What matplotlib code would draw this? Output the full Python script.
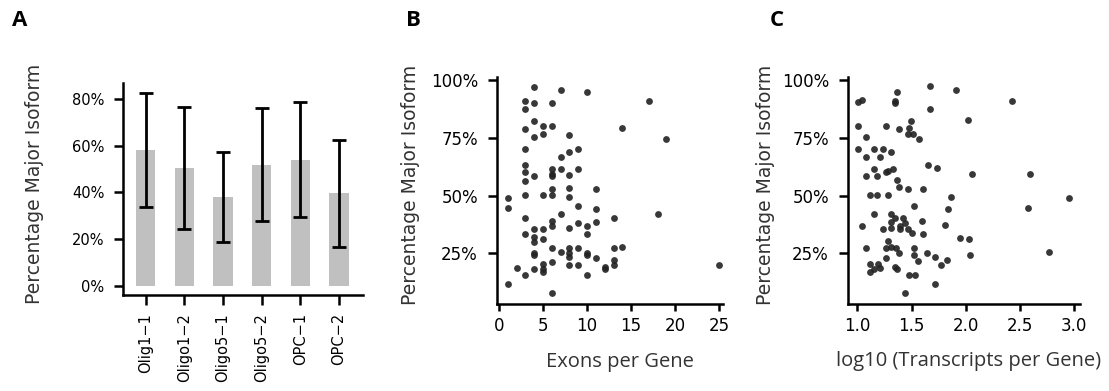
import numpy as np
import matplotlib
matplotlib.use("Agg")
import matplotlib.pyplot as plt
from matplotlib.ticker import FuncFormatter

plt.rcParams["font.family"] = ["DejaVu Sans"]

# panel A: mean percentage of major isoform per sample
samples = ["Olig1\u22121", "Oligo1\u22122", "Oligo5\u22121", "Oligo5\u22122", "OPC\u22121", "OPC\u22122"]
pct_mean = [58.0, 50.6, 37.9, 51.8, 53.9, 39.6]
err_low = [33.7, 24.5, 18.7, 27.8, 29.5, 16.5]
err_high = [82.4, 76.6, 57.3, 76.0, 78.6, 62.6]

# panel B: exons per gene vs percentage major isoform
exons = [1, 1, 1, 2,
         3, 3, 3, 3, 3, 3, 3, 3, 3, 3, 3,
         4, 4, 4, 4, 4, 4, 4, 4, 4, 4, 4,
         5, 5, 5, 5, 5, 5, 5, 5,
         6, 6, 6, 6, 6, 6, 6, 6, 6, 6, 6, 6,
         7, 7, 7, 7, 7,
         8, 8, 8, 8, 8, 8, 8, 8, 8, 8,
         9, 9, 9, 9, 9, 9,
         10, 10, 10, 10, 10, 10,
         11, 11, 11, 11,
         12, 12,
         13, 13, 13, 13,
         14, 14, 17, 18, 19, 25]
pct_b = [49.0, 44.8, 11.9, 18.8,
         91.1, 87.5, 78.7, 70.2, 63.2, 60.4, 56.5, 50.1, 40.2, 33.4, 15.7,
         97.1, 90.2, 82.4, 75.2, 58.5, 35.4, 32.2, 30.1, 25.0, 24.3, 18.3,
         80.3, 76.8, 50.1, 35.4, 31.4, 20.3, 18.3, 16.8,
         90.2, 80.3, 61.7, 59.2, 58.5, 52.7, 50.1, 39.2, 37.0, 27.5, 21.4, 7.9,
         95.5, 66.8, 61.7, 41.9, 25.8,
         76.2, 69.0, 58.9, 53.4, 49.5, 36.1, 27.3, 25.2, 23.6, 20.1,
         70.2, 61.7, 45.4, 38.3, 27.3, 20.1,
         94.7, 37.0, 33.4, 25.0, 24.3, 15.5,
         52.7, 44.4, 38.7, 23.2,
         19.3, 18.3,
         40.2, 27.5, 22.2, 20.1,
         79.1, 27.6, 90.9, 41.9, 74.5, 20.0]

# panel C: log10 transcripts per gene vs percentage major isoform
log_tx = [1.671, 1.363, 1.003, 1.046, 1.342, 1.348, 1.671, 1.003, 1.259, 1.385,
          1.495, 1.480, 1.462, 1.517, 1.572, 1.083, 1.003, 1.154, 1.234, 1.308,
          1.083, 1.209, 1.154, 1.329, 1.262, 1.280, 1.655, 1.738, 1.083, 1.182,
          1.363, 1.385, 1.468, 1.606, 1.114, 1.182, 1.280, 1.864, 1.520, 1.837,
          1.154, 1.305, 1.348, 1.422, 1.305, 1.434, 1.046, 1.234, 1.305, 1.397,
          1.397, 1.465, 1.594, 1.499, 1.606, 1.804, 1.283, 1.083, 1.262, 1.308,
          1.354, 1.385, 1.523, 1.523, 1.262, 1.557, 1.643, 1.716, 1.825, 1.772,
          1.114, 1.114, 1.154, 1.188, 1.209, 1.342, 1.363, 1.477, 1.532, 1.716,
          1.434, 1.907, 2.424, 2.018, 2.058, 2.593, 2.950, 2.572, 1.950, 2.030,
          2.039, 2.765]
pct_c = [97.3, 94.7, 90.3, 91.2, 90.9, 90.2, 87.6, 80.3, 80.3, 78.8,
         82.1, 79.2, 76.5, 76.6, 74.5, 75.2, 70.3, 70.2, 70.2, 69.0,
         66.8, 66.8, 61.7, 61.7, 60.2, 60.5, 63.2, 61.8, 58.5, 58.5,
         56.6, 53.6, 52.7, 52.7, 50.1, 50.1, 50.1, 49.5, 45.4, 44.4,
         41.9, 41.9, 40.2, 40.2, 38.4, 38.3, 36.7, 35.6, 35.8, 37.0,
         35.6, 35.6, 38.9, 33.7, 33.4, 37.1, 30.2, 27.5, 27.3, 27.6,
         27.3, 25.0, 27.5, 24.3, 23.2, 21.6, 25.2, 23.6, 22.2, 20.1,
         20.3, 17.0, 18.3, 20.3, 18.8, 19.0, 18.3, 15.5, 15.5, 11.9,
         7.9, 95.5, 90.9, 82.6, 59.2, 59.3, 49.0, 44.8, 31.8, 31.2,
         24.2, 25.8]

pct_fmt = FuncFormatter(lambda v, pos: "%d%%" % round(v))
label_font = ["Open Sans", "DejaVu Sans"]


def style_axis(ax, size=10.5, xlen=5, xpad=4):
    for side in ["top", "right"]:
        ax.spines[side].set_visible(False)
    for side in ["left", "bottom"]:
        ax.spines[side].set_linewidth(1.8)
    ax.tick_params(width=1.8, labelsize=size, colors="black")
    ax.tick_params(axis="y", length=6.5, pad=7)
    ax.tick_params(axis="x", length=xlen, pad=xpad)


fig = plt.figure(figsize=(11.09, 3.91), dpi=100)

# --- A ---
axA = fig.add_axes([0.1109, 0.2455, 0.2164, 0.5422])
pos = np.arange(len(samples))
mean = np.array(pct_mean)
axA.bar(pos, mean, width=0.5, color="#c0c0c0")
axA.errorbar(pos, mean, yerr=[mean - np.array(err_low), np.array(err_high) - mean],
             fmt="none", ecolor="black", elinewidth=2, capsize=5, capthick=2)
axA.set_xlim(-0.59, 5.62)
axA.set_ylim(-3.85, 86.8)
axA.set_yticks([0, 20, 40, 60, 80])
axA.yaxis.set_major_formatter(pct_fmt)
axA.set_xticks(pos)
axA.set_xticklabels(samples, rotation=90, fontsize=11)
style_axis(axA, size=10.5, xlen=7.5, xpad=5.5)
axA.set_ylabel("Percentage Major Isoform", fontsize=13.5, color="#333333")
axA.yaxis.set_label_coords(-0.329, 0.526)

# --- B ---
axB = fig.add_axes([0.4479, 0.2225, 0.2038, 0.5813])
axB.scatter(exons, pct_b, s=24, color="#222222", alpha=0.9, linewidths=0)
axB.set_xlim(-0.26, 25.4)
axB.set_ylim(3.1, 101.4)
axB.set_xticks([0, 5, 10, 15, 20, 25])
axB.set_yticks([25, 50, 75, 100])
axB.yaxis.set_major_formatter(pct_fmt)
style_axis(axB, size=12)
axB.set_ylabel("Percentage Major Isoform", fontsize=13.5, color="#333333")
axB.yaxis.set_label_coords(-0.339, 0.526)
axB.set_xlabel("Exons per Gene", fontsize=14.5, color="#333333", family=label_font)
axB.xaxis.set_label_coords(0.547, -0.211)

# --- C ---
axC = fig.add_axes([0.7644, 0.2225, 0.2095, 0.5813])
axC.scatter(log_tx, pct_c, s=24, color="#222222", alpha=0.9, linewidths=0)
axC.set_xlim(0.91, 3.054)
axC.set_ylim(3.1, 101.4)
axC.set_xticks([1.0, 1.5, 2.0, 2.5, 3.0])
axC.set_xticklabels(["1.0", "1.5", "2.0", "2.5", "3.0"])
axC.set_yticks([25, 50, 75, 100])
axC.yaxis.set_major_formatter(pct_fmt)
style_axis(axC, size=12)
axC.set_ylabel("Percentage Major Isoform", fontsize=13.5, color="#333333")
axC.yaxis.set_label_coords(-0.313, 0.526)
axC.set_xlabel("log10 (Transcripts per Gene)", fontsize=14.5, color="#333333", family=label_font)
axC.xaxis.set_label_coords(0.519, -0.205)

# panel letters
for x, letter in [(0.011, "A"), (0.366, "B"), (0.694, "C")]:
    fig.text(x, 0.975, letter, fontsize=16, fontweight="bold", family=label_font, va="top")

fig.savefig("out.png", dpi=100)
